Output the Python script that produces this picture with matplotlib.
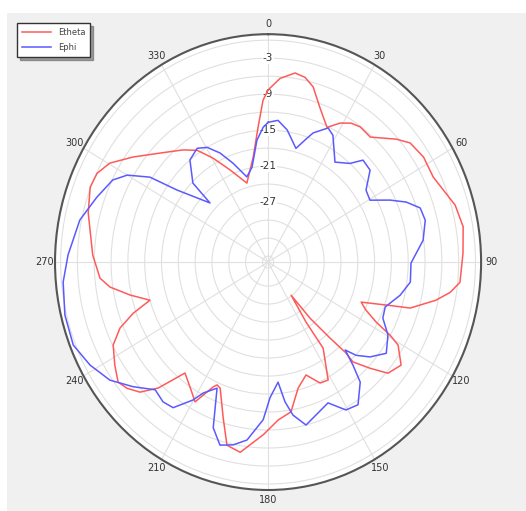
import matplotlib
matplotlib.use('Agg')
import matplotlib.pyplot as plt
import numpy as np
from matplotlib.patches import Rectangle

# Etheta trace (angle in degrees clockwise from top, level in dB)
etheta_deg = [0, 4.0, 8.7, 12.1, 15.4, 19.7, 25.1, 29.0, 32.6, 36.1, 41.2, 48.1, 51.9, 57.7,
              64.3, 69.0, 74.1, 80.4, 87.6, 95.6, 98.8, 102.0, 106.8, 108.8, 111.9, 114.6,
              117.4, 119.2, 120.8, 125.9, 130.9, 134.2, 137.7, 137.5, 138.9, 141.3, 143.3,
              145.9, 145.6, 151.4, 155.3, 160.2, 165.7, 170.7, 176.1, 181.7, 188.9, 193.5,
              197.1, 202.1, 203.9, 205.2, 209.2, 212.1, 218.7, 223.0, 226.5, 230.1, 233.2,
              237.8, 243.4, 247.4, 250.5, 253.2, 257.4, 261.6, 264.9, 272.2, 284.3, 291.5,
              295.9, 300.3, 306.0, 313.3, 320.9, 325.9, 330.5, 336.2, 344.0, 351.4, 355.5,
              358.1, 360]
etheta_db = [-8.3, -6.3, -5.1, -5.5, -6.7, -9.6, -12.2, -10.5, -9.5, -9.1, -9.3, -6.3, -4.8, -4.2,
             -4.3, -3.5, -2.3, -1.7, -2.2, -2.6, -4.1, -6.4, -10.5, -14.8, -19.1, -17.8,
             -15.3, -12.1, -10.0, -7.7, -8.7, -11.6, -14.5, -16.6, -20.2, -25.0, -30.1,
             -24.9, -19.6, -14.6, -14.8, -17.0, -15.3, -11.7, -10.6, -8.2, -4.9, -5.6,
             -9.8, -14.3, -14.6, -14.0, -10.3, -11.4, -13.3, -8.3, -5.5, -4.2, -3.6,
             -4.7, -6.1, -8.4, -11.5, -15.0, -11.8, -8.5, -6.9, -5.7, -3.9, -2.9,
             -3.1, -4.3, -7.2, -10.5, -12.9, -14.5, -17.1, -20.2, -23.3, -19.3, -14.4,
             -10.0, -8.3]

# Ephi trace
ephi_deg = [0, 4.3, 8.8, 14.7, 18.6, 20.5, 25.6, 28.7, 35.6, 41.6, 44.9, 49.9, 55.5, 60.4,
            64.6, 67.9, 71.6, 76.0, 82.5, 87.4, 90.4, 97.5, 103.2, 109.7, 114.5, 119.6,
            125.8, 131.0, 134.7, 136.8, 138.6, 140.6, 146.0, 150.6, 155.5, 161.5, 166.0,
            170.1, 172.6, 174.9, 179.1, 181.9, 187.2, 191.5, 195.7, 199.5, 203.4, 207.9,
            210.2, 214.9, 218.8, 223.4, 229.2, 235.1, 241.6, 248.3, 256.3, 264.8, 271.9,
            281.8, 289.5, 296.3, 300.0, 303.9, 306.5, 313.6, 314.5, 320.7, 326.3, 330.4,
            334.8, 339.3, 345.1, 349.8, 354.4, 357.8, 360]
ephi_db = [-13.7, -13.3, -14.7, -17.4, -15.2, -14.0, -12.2, -12.9, -16.5, -15.0, -13.0, -13.2, -15.8, -16.1,
           -12.9, -10.4, -8.4, -8.1, -9.1, -10.7, -11.5, -11.4, -12.8, -14.8, -14.5, -12.4,
           -11.0, -12.9, -14.9, -16.9, -14.1, -11.1, -8.3, -8.7, -11.2, -10.1, -9.0,
           -11.1, -13.5, -16.9, -14.4, -10.7, -7.1, -5.9, -5.3, -7.7, -14.1, -12.3,
           -10.4, -7.4, -7.1, -7.7, -5.2, -2.6, -0.9, 0.4, 0.3, -0.3, -1.3,
           -2.7, -4.6, -6.1, -8.0, -11.6, -16.8, -22.7, -18.2, -15.0, -14.2, -15.0,
           -16.9, -19.4, -22.3, -20.9, -16.6, -14.5, -13.7]

ring_vals = [-36, -33, -30, -27, -24, -21, -18, -15, -12, -9, -6, -3, 0]
ring_labels = ['', '', '', '-27', '', '-21', '', '-15', '', '-9', '', '-3', '']
angle_ticks = list(range(0, 360, 30))

fig = plt.figure(figsize=(5.26, 5.11), dpi=100)
fig.patch.set_facecolor('white')
fig.patches.append(Rectangle((7 / 526, 0), 1, 1 - 13 / 511, transform=fig.transFigure,
                             facecolor='#f0f0f0', edgecolor='none', zorder=-10))

ax = fig.add_axes([0.1046, 0.0411, 0.81, 0.892], projection='polar')
ax.set_aspect('auto')
ax.set_facecolor('white')
ax.set_theta_zero_location('N')
ax.set_theta_direction(-1)

ax.plot(np.radians(etheta_deg), etheta_db, color='#ff5a5a', lw=1.1, label='Etheta')
ax.plot(np.radians(ephi_deg), ephi_db, color='#5a5aff', lw=1.1, label='Ephi')

ax.set_ylim(-37, 1)
ax.set_rticks(ring_vals)
ax.set_yticklabels(ring_labels, fontsize=7.5, color='#333333')
ax.set_rlabel_position(0)
for t in ax.get_yticklabels():
    t.set_horizontalalignment('center')
    t.set_verticalalignment('center')
    t.set_bbox(dict(facecolor='white', edgecolor='none', pad=0.3))

ax.set_thetagrids(angle_ticks, [str(a) for a in angle_ticks], fontsize=7, color='#333333')
ax.tick_params(axis='x', pad=-3)
ax.grid(color='#e0e0e0', linewidth=0.8)
ax.spines['polar'].set_color('#555555')
ax.spines['polar'].set_linewidth(1.5)

fig.legend(loc='upper left', bbox_to_anchor=(0.032, 0.955), borderaxespad=0, fontsize=6,
           fancybox=False, shadow=True, edgecolor='#333333', framealpha=1, labelcolor='#444444',
           handlelength=3.5, labelspacing=0.7, borderpad=0.6)

plt.savefig('out.png', dpi=100)
